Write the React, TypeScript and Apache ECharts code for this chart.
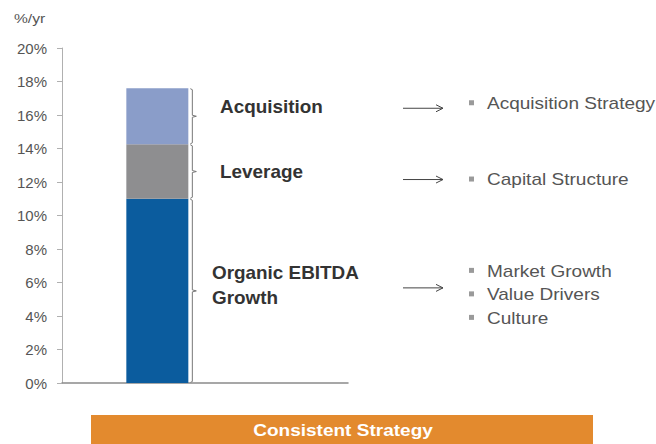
import React, { useEffect, useRef } from "react";
import * as echarts from "echarts";

const categories = ["", "Strategy", "", ""];
const organicGrowth = [null, 11, null, null];
const leverage = [null, 3.25, null, null];
const acquisition = [null, 3.35, null, null];
const yTicks = { min: 0, max: 20, interval: 2 };
const segmentLabels = ["Organic EBITDA\nGrowth", "Leverage", "Acquisition"];
const driverLists = [
  ["Market Growth", "Value Drivers", "Culture"],
  ["Capital Structure"],
  ["Acquisition Strategy"],
];
const unitLabel = "%/yr";
const bannerText = "Consistent Strategy";

const FONT = "Arial, 'Liberation Sans', sans-serif";
const COLORS = ["#0B5C9E", "#8E8E90", "#8A9DC9"];

export default function App() {
  const ref = useRef<HTMLDivElement>(null);
  useEffect(() => {
    if (!ref.current) return;
    const chart = echarts.init(ref.current, null, { renderer: "svg" });
    const seriesData = [organicGrowth, leverage, acquisition];
    chart.setOption({
      animation: false,
      grid: { left: 62, right: 308, top: 48, bottom: 61 },
      xAxis: {
        type: "category",
        data: categories,
        boundaryGap: false,
        axisLine: { lineStyle: { color: "#8a8a8a", width: 1.5 } },
        axisTick: { show: false },
        axisLabel: { show: false },
      },
      yAxis: {
        type: "value",
        min: yTicks.min,
        max: yTicks.max,
        interval: yTicks.interval,
        axisLine: { show: true, lineStyle: { color: "#b0b0b0", width: 1 } },
        axisTick: { show: true, length: 5, lineStyle: { color: "#b0b0b0" } },
        splitLine: { show: false },
        axisLabel: {
          formatter: "{value}%",
          color: "#555",
          fontSize: 15,
          fontFamily: FONT,
          margin: 15,
        },
      },
      series: seriesData.map((d, i) => ({
        type: "bar",
        stack: "total",
        data: d,
        barWidth: 62,
        itemStyle: { color: COLORS[i] },
      })),
    });

    const idx = organicGrowth.findIndex((v) => v !== null);
    const graphics: any[] = [];
    let cum = 0;
    const labelOffsets = [-6, 0, -10];
    const labelX = [212, 220, 220];
    const arrowOffsets = [-3, 8, -8];
    seriesData.forEach((d, i) => {
      const v = d[idx] as number;
      const bottomPx = chart.convertToPixel({ gridIndex: 0 }, [idx, cum]) as number[];
      cum += v;
      const topPx = chart.convertToPixel({ gridIndex: 0 }, [idx, cum]) as number[];
      const x = bottomPx[0] + 31 + 4;
      const top = topPx[1] + 0.5;
      const bot = bottomPx[1] - 0.5;
      const mid = (top + bot) / 2;
      graphics.push({
        type: "polyline",
        shape: {
          points: [
            [x - 2, top],
            [x, top + 1],
            [x, mid - 1],
            [x + 4, mid],
            [x, mid + 1],
            [x, bot - 1],
            [x - 2, bot],
          ],
        },
        style: { stroke: "#777", lineWidth: 1, fill: null },
      });
      graphics.push({
        type: "text",
        x: labelX[i],
        y: mid + labelOffsets[i],
        scaleX: 1.05,
        style: {
          text: segmentLabels[i],
          font: `bold 18px ${FONT}`,
          fill: "#333",
          verticalAlign: "middle",
          lineHeight: 25,
        },
      });
      const ay = mid + arrowOffsets[i];
      graphics.push({
        type: "polyline",
        shape: { points: [[403, ay], [443, ay]] },
        style: { stroke: "#444", lineWidth: 1 },
      });
      graphics.push({
        type: "polyline",
        shape: { points: [[436, ay - 3.5], [443, ay], [436, ay + 3.5]] },
        style: { stroke: "#444", lineWidth: 1, fill: null },
      });
      const items = driverLists[i];
      const startY = items.length === 1 ? ay - 1 - (i === 2 ? 4 : 0) + (i === 1 ? 1 : 0) : ay - 17;
      items.forEach((t, j) => {
        const ty = startY + j * 23.5;
        graphics.push({
          type: "rect",
          shape: { x: 469, y: ty - 3, width: 5, height: 5 },
          style: { fill: "#9a9a9a" },
        });
        graphics.push({
          type: "text",
          x: 487,
          y: ty,
          scaleX: 1.12,
          style: {
            text: t,
            font: `17px ${FONT}`,
            fill: "#555",
            verticalAlign: "middle",
          },
        });
      });
    });

    graphics.push({
      type: "text",
      x: 14,
      y: 18,
      scaleX: 1.2,
      style: { text: unitLabel, font: `13px ${FONT}`, fill: "#555", verticalAlign: "middle" },
    });
    graphics.push({
      type: "rect",
      shape: { x: 91, y: 415, width: 502, height: 29 },
      style: { fill: "#E38A2E" },
    });
    graphics.push({
      type: "text",
      x: 343,
      y: 430,
      scaleX: 1.12,
      style: {
        text: bannerText,
        font: `bold 17px ${FONT}`,
        fill: "#fff",
        align: "center",
        verticalAlign: "middle",
      },
    });
    chart.setOption({ graphic: graphics });
    return () => chart.dispose();
  }, []);
  return (
    <div
      ref={ref}
      style={{ position: "fixed", left: 0, top: 0, width: 656, height: 444, background: "#fff" }}
    />
  );
}
